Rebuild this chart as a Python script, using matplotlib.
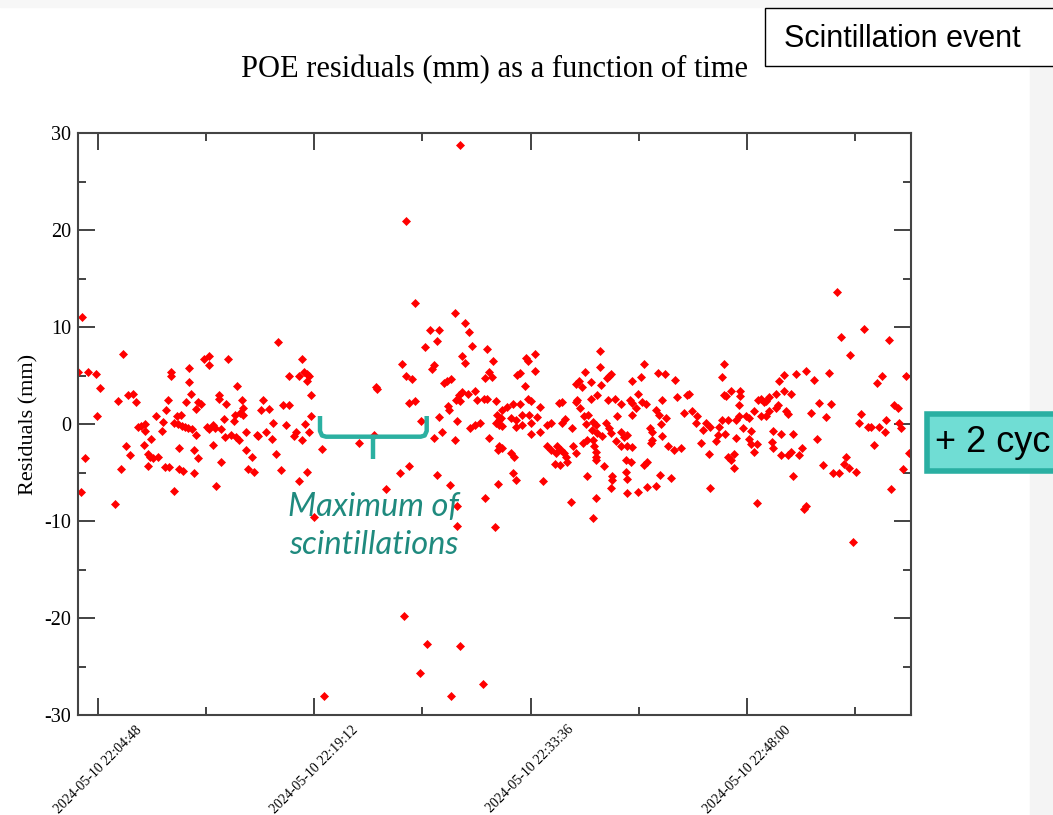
import numpy as np
import matplotlib.pyplot as plt
import matplotlib.transforms as mtransforms
from matplotlib.patches import Rectangle
from matplotlib.lines import Line2D

plt.rcParams['axes.unicode_minus'] = False

# seconds after 2024-05-10 22:00:00 and POE residuals (mm)
times_s = [
    225, 389, 209, 249, 280, 296, 285, 236, 220, 379, 356, 367, 409, 429, 439, 399, 416, 449, 459, 476,
    476, 500, 472, 487, 496, 509, 529, 487, 520, 543, 547, 559, 569, 579, 580, 557, 571, 591, 592, 603,
    620, 609, 623, 636, 649, 663, 613, 613, 629, 640, 651, 651, 660, 679, 679, 672, 689, 672, 689, 700,
    711, 733, 733, 723, 733, 747, 756, 747, 760, 771, 772, 781, 781, 792, 799, 808, 796, 819, 840, 852,
    831, 843, 836, 856, 869, 869, 863, 880, 880, 903, 889, 912, 923, 929, 939, 949, 972, 960, 983, 989,
    999, 1020, 1009, 1029, 1049, 1049, 1040,
    1103, 1109, 1123, 1129, 1123, 1139, 1139, 1089, 1113, 1129, 1080, 1069, 1103, 1183, 1149, 1189, 1123, 1092,
    1553, 1713, 1756, 1772, 1613, 1652, 1643, 1593, 1783, 1843, 1743, 1756, 1865, 1503, 1629, 1623, 1852, 1863,
    1833, 1520, 1543, 1669, 1683, 1699, 1400, 1401, 1743, 1729, 1767, 1793, 1720, 1736, 1529, 1553, 1803, 1829,
    1843, 1876, 1687, 1692, 1580, 1652, 1723, 1883, 1889, 1773, 1796, 1816, 1663, 1629, 1713, 1852, 1887, 1389,
    1332, 1532, 1493, 1641, 1693, 1439, 1723, 1833, 1884, 1723, 1873, 1509, 1603, 1733, 1576, 1825, 1700, 1520,
    1733, 1876,
    2293, 2293, 1996, 2007, 2032, 2032, 1963, 1972, 1993, 2233, 2196, 2209, 2223, 2256, 2296, 2320, 2329, 2336,
    2469, 2423, 2456, 2527, 2553, 2593, 2643, 2649, 2603, 2543, 2447, 2413, 2423, 2463, 2476, 2283, 2256, 2203,
    2196, 2327, 2353, 2376, 2129, 2143, 2005, 2019, 2053, 1903, 1923, 1945, 1972, 1896, 1889, 1903, 1936, 1956,
    1983, 1980, 1959, 2009, 2016, 2043, 2016, 2053, 2083, 2096, 2143, 2152, 2183, 2212, 2229, 2236, 2247, 2265,
    2276, 2263, 2283, 2303, 2316, 2329, 2336, 2363, 2376, 2389, 2403, 2356, 2376, 2403, 2423, 2423, 2436, 2492,
    2503, 2516, 2529, 2543, 2556, 2536, 2567, 2589, 2616, 2629, 2660, 2676, 2683, 2705, 2716, 2732, 2696, 2729,
    1889, 1903, 1936, 1949, 1945, 1956, 2083, 2096, 2116, 2136, 2149, 2156, 2123, 2163, 2113, 2133, 2185, 2196,
    2225, 2243, 2271, 2276, 2276, 2279, 2265, 2309, 2340, 2343, 2336, 2396, 2416, 2399, 2403, 2403, 2447, 2483,
    2516, 2532, 2576, 2469, 2483, 2503, 2496, 2067, 2243, 2176, 2276, 2265, 2733,
    3240, 3349, 3256, 3447, 3293, 2789, 2779, 2789, 2796, 2816, 2852, 2853, 2847, 2923, 2936, 2949, 2956, 2967,
    2969, 2996, 3007, 3029, 3076, 3116, 3147, 3207, 3029, 3056, 3003, 2996, 3036, 3043, 3169, 3217, 3136, 3196,
    3399, 3420, 3516, 3336, 3327, 3363, 3376, 3409, 3432, 3437, 3387, 3467, 3483, 3489, 3496, 3527, 3505, 3457,
    3159, 3185, 3223, 3247, 3267, 3276, 3289, 3316, 3065, 3116, 3109, 2920, 2767, 2779, 2805, 2836, 2849, 2876,
    2887, 2909, 2936, 2956, 2765, 2756, 2792, 2836, 2863, 2887, 2896, 2896, 2920, 2909, 2983, 2979, 2985, 3016,
    3065, 3016, 3043, 3056, 3089, 3099, 2803, 2816, 2827, 2827, 3305,
]
resid_mm = [
    11.0, 7.2, 5.4, 5.4, 5.2, 3.7, 0.8, -3.5, -7.0, -4.6, -8.2, 2.4, 3.0, 3.1, 2.3, -2.3, -3.2, -0.3, -0.2, 0.0,
    -0.7, -1.5, -2.2, -3.1, -3.4, -3.5, -3.4, -4.3, 0.8, -0.7, 0.2, 1.4, 2.5, 5.4, 4.9, -4.4, -4.4, -6.9, 0.1, 0.8,
    0.9, 0.0, -0.2, -0.3, -0.4, -0.5, -2.5, -4.6, -4.8, 2.3, 5.8, 4.3, 3.1, 1.5, -1.1, -2.7, -3.5, -5.1, 2.3, 2.1,
    6.7, 7.0, 6.1, -0.3, -0.5, -0.1, -0.4, -2.2, -6.4, 3.0, 2.6, -0.5, -3.9, 0.5, 2.1, 6.7, -1.3, -1.1, -1.3, -1.6,
    0.3, 3.9, 0.9, 1.1, 0.9, 1.7, 2.5, -0.8, -2.7, -3.4, -4.6, -4.9, -1.1, -1.2, 1.4, 2.5, 1.5, -0.8, -1.5, 0.1,
    -3.1, -4.7, 8.5, 2.0, 2.0, 4.9, -0.1,
    6.7, 5.4, 5.2, 4.9, 4.4, 3.0, 0.8, 4.9, 0.0, -0.8, -0.8, -1.2, -1.6, -2.6, -9.6, -28.0, -4.9, -5.9,
    12.5, 11.4, 10.4, 9.5, 9.7, 9.7, 8.6, 7.9, 8.0, 7.7, 7.0, 6.3, 6.5, 6.2, 6.1, 5.7, 5.4, 4.8,
    4.7, 4.9, 4.6, 4.2, 4.4, 4.6, 3.8, 3.6, 3.3, 3.0, 3.1, 3.4, 2.5, 2.4, 2.2, 2.4, 2.5, 2.6,
    2.6, 2.4, 1.9, 1.4, 0.3, 0.7, 0.3, 0.9, 0.4, -0.4, -0.1, 0.1, -0.8, -1.4, -1.6, -1.4, -2.7, -1.1,
    -2.0, -4.3, -5.0, -5.3, -6.3, -6.7, -8.5, -7.6, -6.2, -10.5, -10.6, -19.8, -22.7, -22.9, -25.7, -26.8, -28.0, 20.9,
    28.8, 0.1,
    7.5, 5.9, 6.8, 6.5, 7.2, 5.5, 5.1, 5.3, 3.9, 5.4, 4.1, 4.4, 3.8, 4.3, 4.0, 4.7, 4.9, 5.2,
    6.2, 4.4, 4.8, 5.3, 5.2, 4.5, 3.0, 3.1, 2.8, 2.5, 3.1, 2.5, 2.2, 2.3, 2.1, 3.0, 2.6, 2.5,
    2.3, 2.5, 2.6, 2.1, 2.2, 2.3, 2.6, 2.4, 1.8, 1.4, 1.8, 2.1, 2.1, 0.6, -0.1, -0.2, 0.6, 0.4,
    0.9, -0.1, -0.3, 0.9, 0.1, 0.7, -1.0, -0.8, -0.1, 0.1, 0.1, 0.5, -0.4, 1.6, 0.8, 0.0, 0.9, 0.2,
    -0.1, -0.6, -0.9, -1.2, 0.1, -0.4, -0.9, 0.8, -0.8, -1.3, -1.1, -1.8, -2.3, -2.3, -2.4, 0.9, 1.6, -0.4,
    -0.8, 1.4, 0.9, -1.2, 0.6, 0.0, -2.3, -2.7, -2.5, 1.1, 1.3, 0.1, 0.8, -0.6, 0.1, -0.3, -2.0, -3.1,
    -2.3, -2.5, -3.0, -3.4, -5.1, -5.8, -2.3, -2.7, -3.0, -2.7, -3.0, -3.4, -2.3, -3.9, -4.1, -4.2, -2.3, -3.0,
    -2.0, -1.6, -2.3, -2.9, -3.4, -3.7, -1.6, -4.3, -5.4, -5.8, -6.6, -3.7, -3.9, -4.9, -5.7, -7.1, -7.0, -6.5,
    -6.4, -5.3, -5.6, -4.2, -3.9, -1.6, -2.0, -5.9, -5.4, -8.0, -7.6, -9.7, -6.6,
    13.6, 9.8, 9.0, 8.7, 7.1, 6.2, 4.8, 3.0, 2.9, 3.4, 3.4, 2.9, 2.0, 2.5, 2.6, 2.3, 2.4, 2.8,
    1.3, 3.1, 4.4, 5.1, 5.2, 5.5, 4.5, 5.3, 3.4, 3.1, 2.0, 1.6, 1.3, 1.0, 2.2, 2.1, 1.1, 0.7,
    4.2, 4.9, 4.9, 1.0, 0.1, -0.3, -0.3, -0.3, -0.8, 0.4, -2.2, 2.0, 1.6, 0.1, -0.4, -3.0, -4.6, -6.7,
    -1.5, -4.2, -5.1, -5.1, -4.1, -3.4, -4.5, -4.9, -5.4, -8.5, -8.8, -8.1, -0.3, 0.4, 0.4, 0.4, 0.8, 0.8,
    0.6, 1.3, 0.8, 0.8, -1.1, -1.8, -1.0, -1.4, -0.4, -1.5, -0.7, -2.1, -2.1, -2.9, -0.7, -1.9, -2.5, -1.0,
    -1.0, -3.2, -3.2, -2.9, -3.2, -2.5, -3.4, -3.7, -3.1, -4.5, -12.2,
]

tick_labels = ['2024-05-10 22:04:48', '2024-05-10 22:19:12',
               '2024-05-10 22:33:36', '2024-05-10 22:48:00']
x_start = '2024-05-10 22:03:28'
x_end = '2024-05-10 22:58:56'

base = np.datetime64('2024-05-10T22:00:00')
t = base + np.array(times_s).astype('timedelta64[s]')
major = np.array([s.replace(' ', 'T') for s in tick_labels], dtype='datetime64[s]')
minor = major + np.timedelta64(432, 's')

serif = 'Liberation Serif'
sans = 'Liberation Sans'

fig = plt.figure(figsize=(10.53, 8.15), dpi=100)
fig.patch.set_facecolor('white')

# pixel coordinates of the slide (origin top-left) for the annotations
px = mtransforms.Affine2D().scale(1 / 1053, -1 / 815).translate(0, 1) + fig.transFigure

fig.patches.append(Rectangle((1030, 0), 30, 815, transform=px, color='#f4f4f4', zorder=0))
fig.patches.append(Rectangle((0, 0), 1053, 7, transform=px, color='#f7f7f7', zorder=0))

ax = fig.add_axes([78 / 1053, 1 - 715 / 815, 833 / 1053, 582 / 815])
ax.plot(t, resid_mm, linestyle='none', marker='D', ms=4.5, color='#ff0000', mec='#ff0000', mew=0.5)

ax.set_xlim(np.datetime64(x_start.replace(' ', 'T')), np.datetime64(x_end.replace(' ', 'T')))
ax.set_ylim(-30, 30)
ax.set_xticks(major)
ax.set_xticklabels(tick_labels, rotation=45, ha='center', family=serif, fontsize=10)
ax.set_xticks(minor, minor=True)
ax.set_yticks(np.arange(-30, 31, 10))
ax.set_yticks(np.arange(-25, 30, 10), minor=True)
for lab in ax.get_yticklabels():
    lab.set_family(serif)
    lab.set_fontsize(14.5)
ax.tick_params(which='both', direction='in', top=True, right=True, color='#222222', width=1.2)
ax.tick_params(which='major', length=12)
ax.tick_params(which='minor', length=6)
ax.tick_params(axis='y', pad=5)
ax.tick_params(axis='x', pad=6)
for sp in ax.spines.values():
    sp.set_color('#444444')
    sp.set_linewidth(1.5)

ax.set_ylabel('Residuals (mm)', family=serif, fontsize=16)
ax.yaxis.set_label_coords(-0.048, 0.5)

fig.text(494.5 / 1053, 1 - 70 / 815, 'POE residuals (mm) as a function of time',
         ha='center', va='center', family=serif, fontsize=22)

# slide annotations
fig.patches.append(Rectangle((765, 8), 320, 58, transform=px, facecolor='white',
                             edgecolor='black', lw=1, zorder=5))
fig.text(784 / 1053, 1 - 39 / 815, 'Scintillation event', ha='left', va='center',
         family=sans, fontsize=22, zorder=6)

fig.patches.append(Rectangle((927, 414), 200, 57, transform=px, facecolor='#70ddd4',
                             edgecolor='#2aafa2', lw=4, zorder=5))
fig.text(935 / 1053, 1 - 442 / 815, '+ 2 cyc', ha='left', va='center',
         family=sans, fontsize=26, zorder=6)

teal = '#2bb0a1'
brace = [(320, 416), (320, 431), (322, 435.5), (326, 436.7),
         (420.7, 436.7), (424.7, 435.5), (426.7, 431), (426.7, 416)]
fig.add_artist(Line2D([p[0] for p in brace], [p[1] for p in brace], transform=px,
                      color=teal, lw=3.2, solid_joinstyle='round', solid_capstyle='butt', zorder=6))
fig.add_artist(Line2D([373.3, 373.3], [436, 459], transform=px, color=teal, lw=3.2,
                      solid_capstyle='butt', zorder=6))
fig.text(373.5 / 1053, 1 - 526 / 815, 'Maximum of\nscintillations', ha='center', va='center',
         family='Lato', style='italic', fontsize=23.5, color='#1f8a7e', linespacing=1.35, zorder=6)

fig.savefig('out.png', dpi=100)
